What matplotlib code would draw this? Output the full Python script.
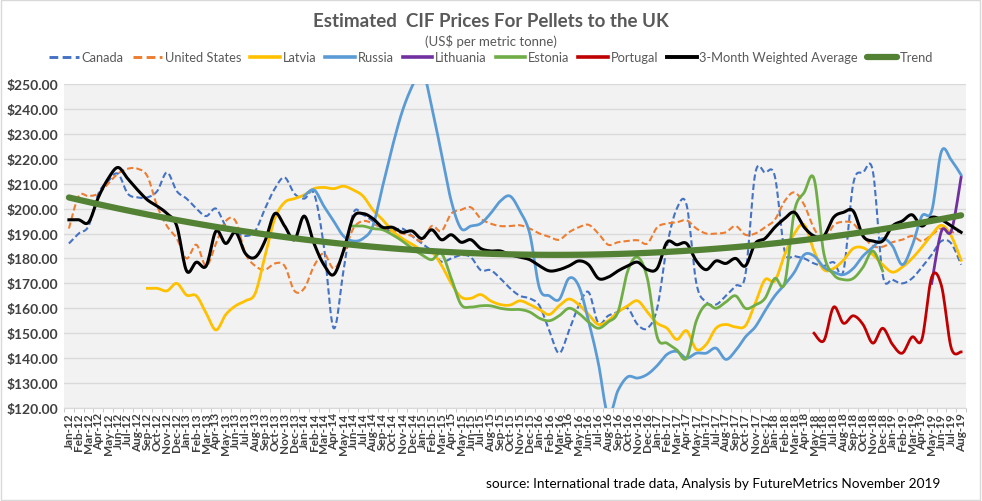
import numpy as np
import pandas as pd
import matplotlib
matplotlib.use("Agg")
import matplotlib.pyplot as plt
from matplotlib.patches import Rectangle
from matplotlib.lines import Line2D

plt.rcParams["font.family"] = ["Lato", "DejaVu Sans"]

# Monthly categories Jan-12 .. Aug-19
months = pd.date_range("2012-01-01", "2019-08-01", freq="MS").strftime("%b-%y").tolist()

N = None
canada = [186, 190, 193, 206, 211, 214, 206, 204.5, 204.5, 207, 214.5, 207, 204, 200, 197, 200,
          193, 190.5, 189, 191, 200, 208, 212.5, 206, 204, 206, 185, 152, 175, 198,
          197.5, 195, 192, 191.3, 192, 189, 186, 183, 178.7, 180, 181.3, 180.5, 175.3, 175.3, 172, 168,
          165, 164, 161, 151, 142, 151, 161, 166.5, 154, 157, 158.5, 160, 153.5, 152,
          160, 185, 200, 201.5, 170, 162.5, 161.5, 165, 169, 173.5, 214, 214.5, 213, 183, 181, 180,
          178, 177, 178.5, 175, 210, 214.5, 215, 173.5, 171.5, 170, 172, 176.5, 181.5, 187, 186, 177.5]
united_states = [192, 205, 205, 206, 210, 214, 216, 216, 213, 201, 193, 188, 180, 185.5, 177, 186,
                 195, 195, 182, 177, 175.5, 178, 177, 167, 168, 177, 182, 176, 182, 192,
                 195, 194, 192, 191, 190, 189, 187, 193, 191, 198, 199.5, 200.5, 196, 194, 193, 193,
                 193.3, 192, 190, 188.7, 187.5, 190.5, 192.5, 193.5, 190, 185.5, 186.5, 187, 187.3, 186,
                 192.5, 194, 194.5, 195.3, 192, 190, 190, 190.5, 193, 189.5, 190, 192.5, 195.5, 203,
                 206.5, 201.5, 192, 187.5, 193.3, 194.7, 194, 189, 185, 184.7, 186.5, 187.5, 189, 187,
                 189.5, 192, 190.5, 191]
latvia = [N, N, N, N, N, N, N, N, 168, 168, 167, 170, 165.3, 165, 158, 151.3,
          157.5, 161, 163, 166, 181, 196, 202.5, 204, 205.5, 208, 208.5, 208, 209, 207.5,
          205, 199.5, 195.5, 191, 188, 185.7, 183.3, 182.7, 177.3, 170, 164.5, 164, 165.5, 163, 161.5,
          161.3, 163, 161.5, 159.5, 157.5, 161, 163.7, 161.5, 157.5, 153.5, 155, 158.5, 161, 163,
          158.5, 154, 152, 147.5, 151, 143.5, 145.5, 152, 153.5, 152.5, 153, 162, 171.5, 171,
          181.5, 190, 193.5, 183, 175.5, 176, 179.3, 184, 184.3, 181.5, 177.5, 174.5, 176.5, 180,
          184.5, 189.5, 193.3, 189, 179.3]
russia = [N] * 24 + [205, 207.5, 201, 195, 189, 187, 188, 193, 209, 225, 239, 249, 256, 241,
                     222, 203, 192, 193, 194, 198, 203, 205, 199, 190, 168, 165, 163.5, 172, 169,
                     155, 138, 117, 127, 132.5, 132, 133.5, 137, 141.5, 142.7, 140, 142, 142, 144,
                     139.5, 143, 148.5, 152.5, 159, 165, 169.5, 174.5, 181.5, 181, 176.5, 174.5,
                     173.5, 176, 181, 184.5, 188, 185, 177.5, 185, 197, 199, 223, 219.5, 213.5]
lithuania = [N] * 88 + [170, 191, 191, 212.5]
estonia = [N] * 29 + [193, 193, 192, 191.5, 189.5, 187, 184, 181.5, 179.5, 182, 172, 161.5, 160.5,
                      161, 161, 160, 159.5, 159.5, 158.5, 156, 155, 157, 160, 158, 154.5, 152,
                      154.5, 158.5, 175, 180.5, 172, 148.5, 146, 143.3, 140, 155, 161.5, 160,
                      162.5, 165, 160, 161.3, 164, 172, 170, 199, 206.5, 212, 182, 173.5, 171.5,
                      172, 176.5, 183, 175] + [N] * 8
portugal = [N] * 76 + [150, 147, 160.5, 154, 157, 153.5, 146, 152, 145.5, 142, 148.5, 147.5,
                       172.5, 169, 144, 142.5]
weighted_avg = [195.5, 195.5, 194.5, 204.5, 212, 216.5, 212, 207.5, 203.5, 201, 198, 193,
                175, 178.5, 177, 191, 186, 190.5, 182, 180.5, 187, 198, 193, 187.5, 197, 186,
                177.5, 173.5, 183, 196.5, 198, 196, 192.5, 192.5, 190.5, 191, 188, 191.5, 187.5,
                189.5, 186.5, 187.5, 184, 183, 183, 181.5, 180.5, 179.5, 177, 175, 175.5, 177,
                179, 177.5, 172, 172.5, 175, 177, 178.5, 175.5, 176, 186.5, 185.5, 186, 179,
                175.5, 179, 178, 180, 177, 186, 188, 192.5, 196, 198.5, 192.5, 189, 189, 196.5,
                198.5, 199, 189, 187, 187, 193, 195, 197.5, 193, 196.5, 195.5, 193, 190.5]


def smooth(vals, steps=12):
    """Catmull-Rom smoothing similar to Excel's smoothed lines; gaps stay gaps."""
    y = np.array([np.nan if v is None else v for v in vals], dtype=float)
    x = np.arange(len(y), dtype=float)
    ok = ~np.isnan(y)
    xs_out, ys_out = [], []
    i = 0
    while i < len(y):
        if not ok[i]:
            i += 1
            continue
        j = i
        while j < len(y) and ok[j]:
            j += 1
        sx, sy = x[i:j], y[i:j]
        if len(sx) > 1:
            px = np.concatenate([[sx[0]], sx, [sx[-1]]])
            py = np.concatenate([[sy[0]], sy, [sy[-1]]])
            t = np.linspace(0, 1, steps, endpoint=False)
            for k in range(1, len(px) - 2):
                for p, out in ((px, xs_out), (py, ys_out)):
                    p0, p1, p2, p3 = p[k - 1], p[k], p[k + 1], p[k + 2]
                    out.extend(0.5 * ((2 * p1) + (-p0 + p2) * t
                                      + (2 * p0 - 5 * p1 + 4 * p2 - p3) * t ** 2
                                      + (-p0 + 3 * p1 - 3 * p2 + p3) * t ** 3))
            xs_out.append(sx[-1])
            ys_out.append(sy[-1])
        xs_out.append(np.nan)
        ys_out.append(np.nan)
        i = j
    return np.array(xs_out), np.array(ys_out)


fig = plt.figure(figsize=(9.82, 5.02), dpi=100)
fig.patches.append(Rectangle((0.001, 0.001), 0.997, 0.997, transform=fig.transFigure,
                             fill=False, edgecolor="#D9D9D9", linewidth=1))
ax = fig.add_axes([0.0652, 0.1853, 0.9185, 0.6454])
ax.set_facecolor("#F2F2F2")

series = [
    ("Canada", canada, "#4472C4", 1.5, (0, (3, 1.5))),
    ("United States", united_states, "#ED7D31", 1.5, (0, (3, 1.5))),
    ("Latvia", latvia, "#FFC000", 2.0, "-"),
    ("Russia", russia, "#5B9BD5", 2.0, "-"),
    ("Lithuania", lithuania, "#7030A0", 2.0, "-"),
    ("Estonia", estonia, "#70AD47", 2.0, "-"),
    ("Portugal", portugal, "#C00000", 2.0, "-"),
    ("3-Month Weighted Average", weighted_avg, "black", 2.2, "-"),
]
handles = []
for name, vals, color, lw, ls in series:
    sx, sy = smooth(vals)
    ax.plot(sx, sy, color=color, linewidth=lw, linestyle=ls, zorder=3)
    handles.append(Line2D([], [], color=color, linewidth=lw + 0.6, linestyle=ls))

# polynomial (order 2) trend of the weighted average, like Excel's trendline
xi = np.arange(len(weighted_avg))
coef = np.polyfit(xi, weighted_avg, 2)
ax.plot(xi, np.polyval(coef, xi), color="#548235", linewidth=4.5, zorder=4,
        solid_capstyle="round")
handles.append(Line2D([], [], color="#548235", linewidth=4.5, solid_capstyle="round"))

ax.set_xlim(-0.5, len(months) - 0.5)
ax.set_ylim(120, 250)
ax.set_yticks(np.arange(120, 251, 10))
ax.set_yticklabels([f"${v:.2f}" for v in range(120, 251, 10)], fontsize=10,
                   fontweight="bold", color="#404040")
ax.yaxis.grid(True, color="#D9D9D9", linewidth=1)
ax.set_axisbelow(True)
ax.tick_params(axis="y", length=0, pad=4)

ax.set_xticks(xi)
ax.set_xticklabels(months, rotation=90, fontsize=8.5, fontweight="bold", color="#404040")
ax.set_xticks(np.arange(-0.5, len(months), 1), minor=True)
ax.tick_params(axis="x", which="major", length=0, pad=3)
ax.tick_params(axis="x", which="minor", length=3, color="#BFBFBF")
for s in ["top", "right", "left"]:
    ax.spines[s].set_visible(False)
ax.spines["bottom"].set_color("#D9D9D9")

fig.text(0.5, 0.958, "Estimated  CIF Prices For Pellets to the UK", ha="center", va="center",
         fontsize=13.5, fontweight="bold", color="#595959")
fig.text(0.5, 0.918, "(US$ per metric tonne)", ha="center", va="center",
         fontsize=9.5, color="#595959")
fig.legend(handles, [s[0] for s in series] + ["Trend"], loc="center", ncol=9,
           bbox_to_anchor=(0.5, 0.884), frameon=False, fontsize=9.3, handlelength=2.3,
           handletextpad=0.2, columnspacing=0.7, labelcolor="#595959")
fig.text(0.958, 0.035, "source: International trade data, Analysis by FutureMetrics November 2019",
         ha="right", va="center", fontsize=9.8, color="black")

fig.savefig("out.png", dpi=100, facecolor="white")
